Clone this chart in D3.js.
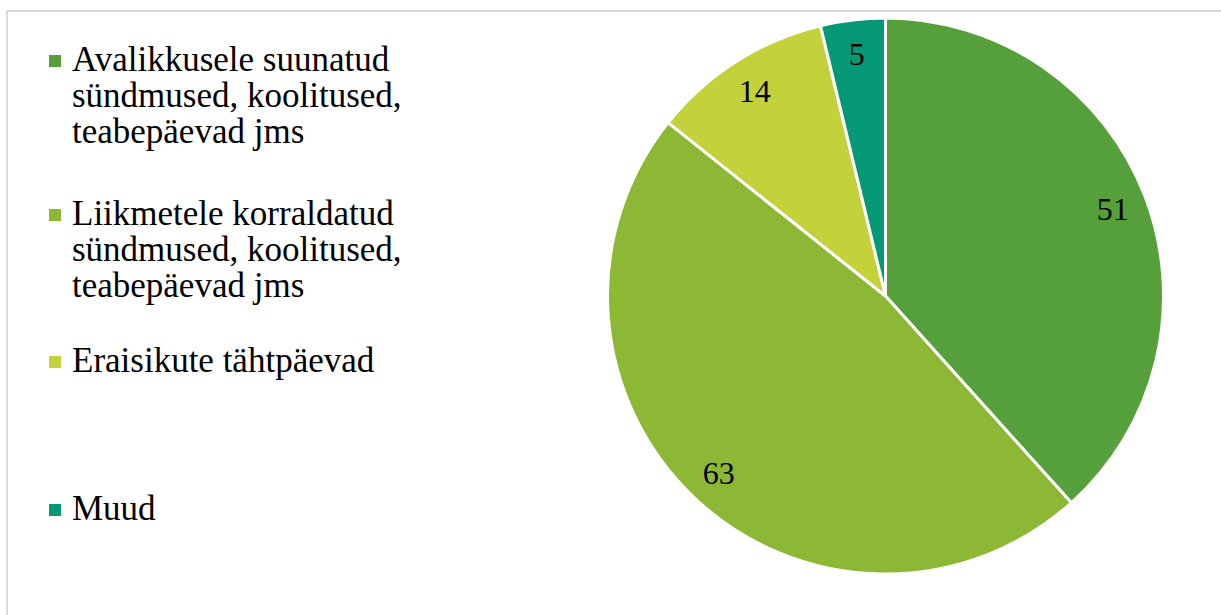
<!DOCTYPE html>
<html>
<head>
<meta charset="utf-8">
<script src="https://cdn.jsdelivr.net/npm/d3@7"></script>
<style>
html,body{margin:0;padding:0;background:#fff;overflow:hidden;}
svg{display:block;}
</style>
</head>
<body>
<svg id="chart" width="1221" height="615"></svg>
<script>
const categories = [
  "Avalikkusele suunatud sündmused, koolitused, teabepäevad jms",
  "Liikmetele korraldatud sündmused, koolitused, teabepäevad jms",
  "Eraisikute tähtpäevad",
  "Muud"
];
const legendLines = [
  ["Avalikkusele suunatud", "sündmused, koolitused,", "teabepäevad jms"],
  ["Liikmetele korraldatud", "sündmused, koolitused,", "teabepäevad jms"],
  ["Eraisikute tähtpäevad"],
  ["Muud"]
];
const values = [51, 63, 14, 5];
const colors = ["#55A03A", "#8DB835", "#C3D13A", "#049876"];

const svg = d3.select("#chart");
const font = "'Liberation Serif', 'DejaVu Serif', serif";

// outer border (chart area frame)
svg.append("rect")
  .attr("x", 7).attr("y", 11)
  .attr("width", 1400).attr("height", 800)
  .attr("fill", "none")
  .attr("stroke", "#d9d9d9")
  .attr("stroke-width", 2);

const cx = 885.5, cy = 296, r = 278;
const data = categories.map((c, i) => ({cat: c, value: values[i], color: colors[i]}));

const pie = d3.pie().value(d => d.value).sort(null);
const arcs = pie(data);
const arc = d3.arc().innerRadius(0).outerRadius(r);
const labelArc = d3.arc().innerRadius(r * 0.875).outerRadius(r * 0.875);

const g = svg.append("g").attr("transform", `translate(${cx},${cy})`);
g.selectAll("path.slice").data(arcs).join("path")
  .attr("class", "slice")
  .attr("d", arc)
  .attr("fill", d => d.data.color)
  .attr("stroke", "#fff")
  .attr("stroke-width", 3)
  .attr("stroke-linejoin", "round");

g.selectAll("text.lbl").data(arcs).join("text")
  .attr("class", "lbl")
  .attr("transform", d => `translate(${labelArc.centroid(d)})`)
  .attr("text-anchor", "middle")
  .attr("dominant-baseline", "central")
  .attr("font-family", font)
  .attr("font-size", 32)
  .attr("fill", "#000")
  .text(d => d.data.value);

// legend
const legendBaselines = [71, 225, 372, 520];
const lineH = 36;
const leg = svg.append("g");
legendLines.forEach((lines, i) => {
  const b = legendBaselines[i];
  leg.append("rect")
    .attr("x", 49).attr("y", b - 16)
    .attr("width", 12).attr("height", 12)
    .attr("fill", colors[i]);
  const t = leg.append("text")
    .attr("x", 72).attr("y", b)
    .attr("font-family", font)
    .attr("font-size", 35)
    .attr("fill", "#000");
  lines.forEach((ln, j) => {
    t.append("tspan").attr("x", 72).attr("y", b + j * lineH).text(ln);
  });
});
</script>
</body>
</html>
